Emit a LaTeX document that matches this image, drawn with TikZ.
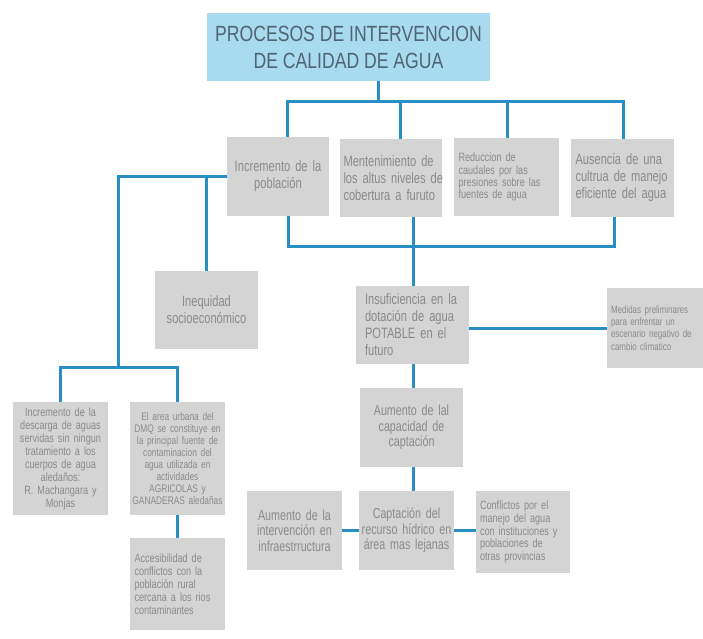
\documentclass[tikz,border=0pt]{standalone}
\usepackage{fontspec}
\newfontfamily\cnd[FakeStretch=0.74]{Liberation Sans}
\newfontfamily\cns[FakeStretch=0.76]{Liberation Sans}
\newfontfamily\ttlf[FakeStretch=0.8]{Liberation Sans}
\definecolor{conn}{RGB}{40,142,196}
\definecolor{boxgray}{RGB}{212,212,212}
\definecolor{txtgray}{RGB}{138,138,138}
\definecolor{titlefill}{RGB}{168,218,240}
\definecolor{titletext}{RGB}{80,100,115}
\newcommand\jl[1]{\makebox[\hsize][s]{#1}}
\newcommand\jw[1]{\makebox[86pt][s]{#1}}
\tikzset{
  box/.style={rectangle, fill=boxgray, text=txtgray, inner sep=0pt, font=\cnd\fontsize{15}{17}\selectfont},
  sbox/.style={box, font=\cns\fontsize{12}{12.2}\selectfont},
  conn/.style={draw=conn, line width=3pt}
}
\begin{document}
\begin{tikzpicture}[x=1pt,y=-1pt]
\useasboundingbox (0,0) rectangle (703,638);
\fill[white] (0,0) rectangle (703,638);

% title
\node[rectangle, fill=titlefill, text=titletext, minimum width=283pt, minimum height=68pt, inner sep=0pt, align=center,
  font=\ttlf\fontsize{22}{27}\selectfont] (title) at (348.5,47) {PROCESOS DE INTERVENCION\\DE CALIDAD DE AGUA};

% first row
\node[box, minimum width=102pt, minimum height=79pt, text width=96pt, align=center] (inc) at (278,176.5)
  {Incremento de la\\población};
\node[box, minimum width=102pt, minimum height=78pt, text width=95pt, align=left] (ment) at (391,178)
  {\jl{Mentenimiento de}\\\jl{los altus niveles de}\\\jl{cobertura a furuto}};
\node[sbox, minimum width=105pt, minimum height=78pt, text width=96pt, align=left] (red) at (506.5,177)
  {Reduccion de\\caudales por las\\presiones sobre las\\fuentes de agua};
\node[box, minimum width=103pt, minimum height=78pt, text width=94pt, align=left] (aus) at (622.5,178)
  {\jl{Ausencia de una}\\\jl{cultrua de manejo}\\\jl{eficiente del agua}};

% middle
\node[box, minimum width=103pt, minimum height=78pt, text width=96pt, align=center] (ineq) at (206.5,310)
  {Inequidad\\socioeconómico};
\node[box, minimum width=113pt, minimum height=78pt, text width=95pt, align=left] (insu) at (412.5,325)
  {\jl{Insuficiencia en la}\\\jl{dotación de agua}\\\jl{POTABLE en el}\\futuro};
\node[sbox, minimum width=113pt, minimum height=80pt, text width=105pt, align=left,
  font=\cns\fontsize{10.5}{12.2}\selectfont] (med) at (663.5,328)
  {\jw{Medidas preliminares}\\\jw{para enfrentar un}\\\jw{escenario negativo de}\\cambio climatico\\[6pt]};

% lower centre
\node[box, minimum width=103pt, minimum height=79pt, text width=96pt, align=center,
  font=\cnd\fontsize{14.5}{15.5}\selectfont] (aumcap) at (411.5,427.5)
  {Aumento de lal\\capacidad de\\captación};
\node[box, minimum width=95pt, minimum height=79pt, text width=92pt, align=center,
  font=\cnd\fontsize{14.5}{15.5}\selectfont] (capt) at (406.5,530.5)
  {Captación del\\recurso hídrico en\\área mas lejanas};
\node[box, minimum width=95pt, minimum height=79pt, text width=92pt, align=center,
  font=\cnd\fontsize{14.5}{15.5}\selectfont] (aumint) at (294.5,530.5)
  {Aumento de la\\intervención en\\infraestrructura};
\node[sbox, minimum width=94pt, minimum height=82pt, text width=86pt, align=left,
  font=\cns\fontsize{12}{12.6}\selectfont] (conf) at (523,532)
  {Conflictos por el\\manejo del agua\\con instituciones y\\poblaciones de\\otras provincias};

% lower left
\node[sbox, minimum width=95pt, minimum height=113pt, text width=92pt, align=center,
  font=\cns\fontsize{12}{13}\selectfont] (desc) at (60.5,458.5)
  {Incremento de la\\descarga de aguas\\servidas sin ningun\\tratamiento a los\\cuerpos de agua\\aledaños:\\R. Machangara y\\Monjas};
\node[sbox, minimum width=95pt, minimum height=113pt, text width=93pt, align=center,
  font=\cns\fontsize{11}{12}\selectfont] (area) at (177.5,458.5)
  {El area urbana del\\DMQ se constituye en\\la principal fuente de\\contaminacion del\\agua utilizada en\\actividades\\AGRICOLAS y\\GANADERAS aledañas};
\node[sbox, minimum width=95pt, minimum height=92pt, text width=86pt, align=left,
  font=\cns\fontsize{12}{13}\selectfont] (acc) at (177.5,584)
  {Accesibilidad de\\conflictos con la\\población rural\\cercana a los rios\\contaminantes};

% junction coordinates
\coordinate (t0) at (378,101);
\coordinate (a1) at (287,101);
\coordinate (a2) at (400,101);
\coordinate (a3) at (507,101);
\coordinate (a4) at (623,101);
\coordinate (b1) at (288,246);
\coordinate (b2) at (413,246);
\coordinate (b4) at (614,246);
\coordinate (l1) at (118,367);

% connectors
\draw[conn] (title.south -| t0) -- (t0);
\draw[conn] (inc.north -| a1) -- (a1) -- (a4) -- (aus.north -| a4);
\draw[conn] (a2) -- (ment.north -| a2);
\draw[conn] (a3) -- (red.north -| a3);
\draw[conn] (inc.south -| b1) -- (b1) -- (b4) -- (aus.south -| b4);
\draw[conn] (ment.south -| b2) -- (insu.north -| b2);
\draw[conn] (inc.west) -- (inc.west -| l1) -- (l1);
\draw[conn] (ineq.north) -- (ineq.north |- inc.west);
\draw[conn] (desc.north) |- (l1) -| (area.north);
\draw[conn] (area.south) -- (acc.north);
\draw[conn] (insu.east |- med.west) -- (med.west);
\draw[conn] (insu.south -| b2) -- (aumcap.north -| b2);
\draw[conn] (aumcap.south -| b2) -- (capt.north -| b2);
\draw[conn] (aumint.east) -- (capt.west);
\draw[conn] (capt.east) -- (conf.west |- capt.east);
\end{tikzpicture}
\end{document}
